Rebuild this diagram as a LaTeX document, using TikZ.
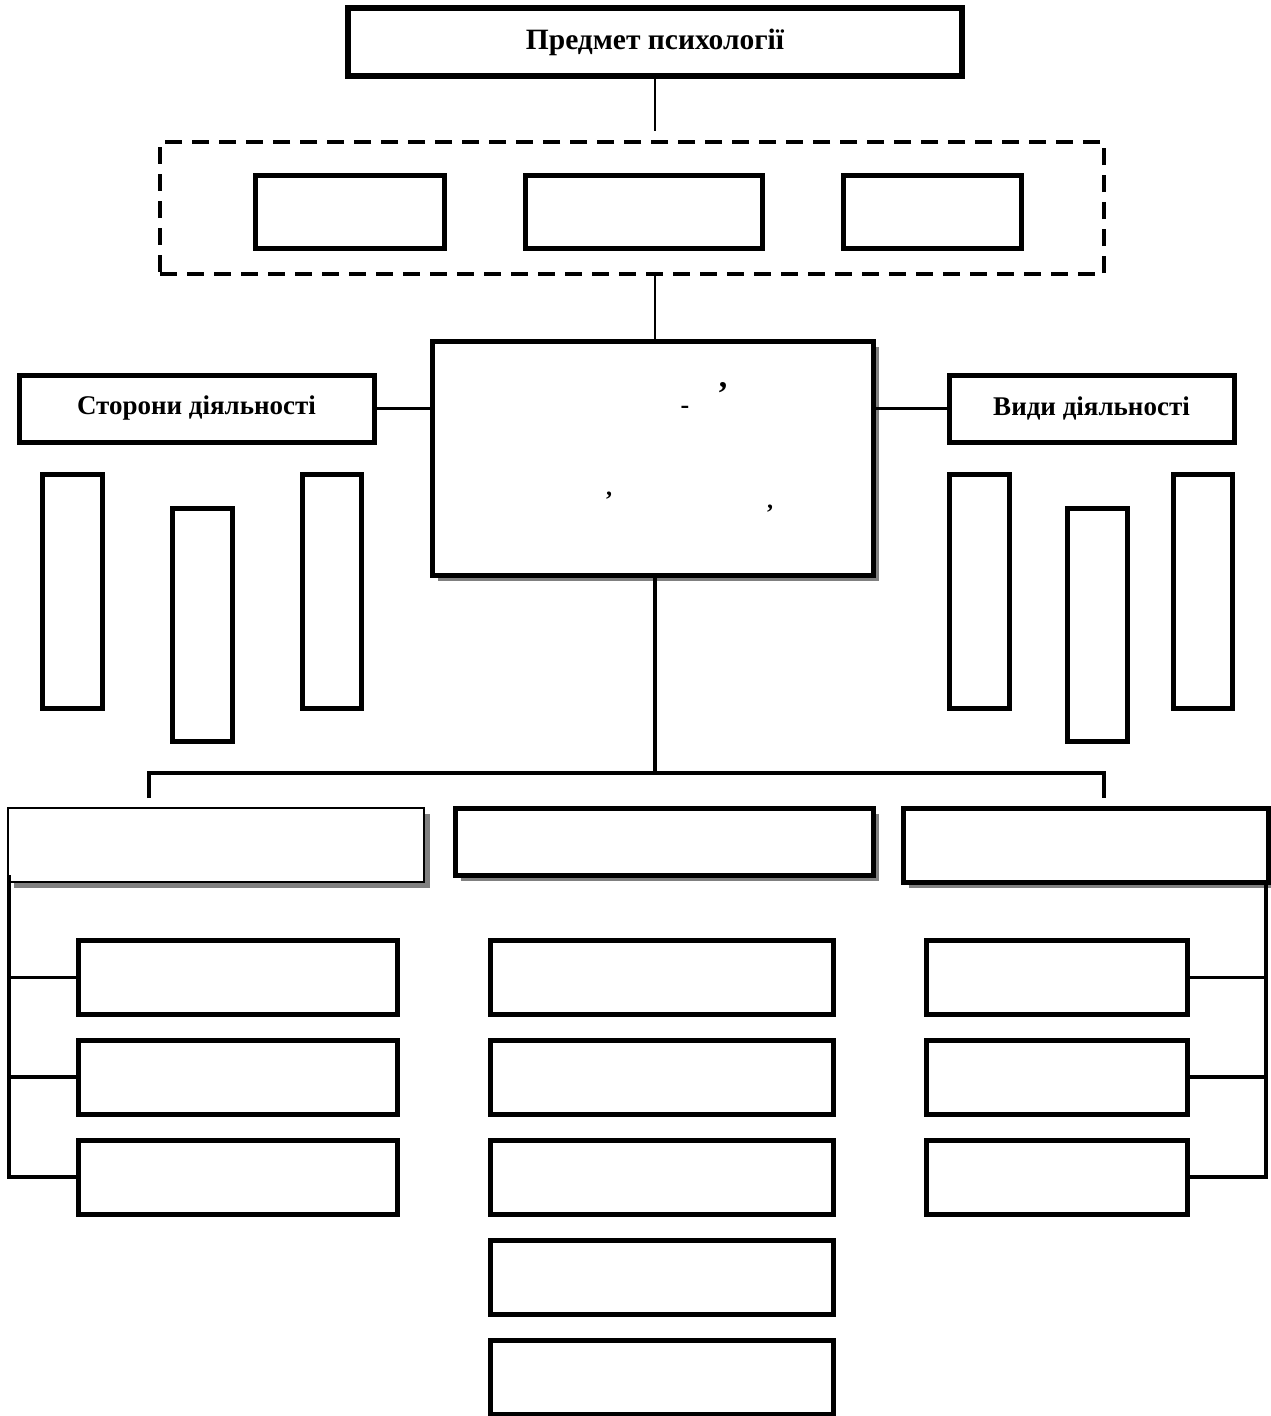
\documentclass[tikz,border=0pt]{standalone}
\usepackage{fontspec}
\setmainfont{Liberation Serif}
\begin{document}
\begin{tikzpicture}[x=1pt,y=-1pt,
  box/.style={draw=black,line width=5pt,fill=white,inner sep=0pt,rectangle},
  thinbox/.style={draw=black,line width=2.5pt,fill=white,inner sep=0pt,rectangle},
  shadowed/.style={preaction={fill=black!50,transform canvas={xshift=6pt,yshift=-6pt}}},
  conn/.style={draw=black,line width=3.5pt},
  lconn/.style={draw=black,line width=2pt},
  lbl/.style={font=\bfseries\fontsize{27}{30}\selectfont},
  punct/.style={font=\bfseries\fontsize{34}{36}\selectfont,inner sep=0pt}
]
\useasboundingbox (0,0) rectangle (1271,1416);
\fill[white] (0,0) rectangle (1271,1416);

% top
\node[box,line width=6pt,minimum width=614pt,minimum height=68pt,font=\bfseries\fontsize{29.5}{32}\selectfont] (top) at (655,42) {Предмет психології};
\node[draw=black,line width=4pt,dash pattern=on 17pt off 10pt,inner sep=0pt,minimum width=944pt,minimum height=132pt] (dash) at (632,208) {};
\node[box,minimum width=189pt,minimum height=73pt] (i1) at (349.5,211.5) {};
\node[box,minimum width=237pt,minimum height=73pt] (i2) at (643.5,211.5) {};
\node[box,minimum width=178pt,minimum height=73pt] (i3) at (932,211.5) {};
\draw[lconn] (top.south -| 655,0) -- (655,131);
\draw[lconn,line width=1.5pt] (655,274) -- (655,341);

% central
\node[box,shadowed,minimum width=441pt,minimum height=234pt] (cen) at (652.5,458) {};
\node[punct] (p1) at (723,388) {,};
\node[punct,font=\bfseries\fontsize{26}{28}\selectfont] (p2) at (685,410) {-};
\node[punct,font=\bfseries\fontsize{24}{26}\selectfont] (p3) at (609,496) {,};
\node[punct,font=\bfseries\fontsize{24}{26}\selectfont] (p4) at (770,509) {,};

% sides
\node[box,minimum width=355pt,minimum height=67pt,lbl] (sl) at (196.5,408.5) {Сторони діяльності};
\node[box,minimum width=285pt,minimum height=67pt,lbl] (sr) at (1091.5,408.5) {Види діяльності};
\draw[conn] (sl.east) -- (sl.east -| cen.west);
\draw[conn] (sr.west) -- (sr.west -| cen.east);

\node[box,minimum width=60pt,minimum height=234pt] (v1) at (72,591) {};
\node[box,minimum width=60pt,minimum height=233pt] (v2) at (202,624.5) {};
\node[box,minimum width=59pt,minimum height=234pt] (v3) at (331.5,591) {};
\node[box,minimum width=60pt,minimum height=234pt] (r1) at (979,591) {};
\node[box,minimum width=60pt,minimum height=233pt] (r2) at (1097,624.5) {};
\node[box,minimum width=59pt,minimum height=234pt] (r3) at (1202.5,591) {};

% bus
\coordinate (bus) at (655,773);
\draw[conn] (cen.south -| 655,0) -- (bus);
\draw[conn] (149,798) -- (149,773) -- (1104,773) -- (1104,798);

% heads
\node[thinbox,shadowed,minimum width=416pt,minimum height=74pt] (hL) at (216,845) {};
\node[box,shadowed,minimum width=418pt,minimum height=67pt] (hM) at (664,841.5) {};
\node[box,shadowed,minimum width=365pt,minimum height=74pt] (hR) at (1085.5,845) {};

% columns
\foreach \n/\y in {l1/977.5,l2/1077,l3/1177}
  \node[box,minimum width=319pt,minimum height=74pt] (\n) at (237.5,\y) {};
\foreach \n/\y in {m1b/977.5,m2b/1077,m3b/1177,m4b/1277,m5b/1377}
  \node[box,minimum width=343pt,minimum height=74pt] (\n) at (661.5,\y) {};
\foreach \n/\y in {q1/977.5,q2/1077,q3/1177}
  \node[box,minimum width=261pt,minimum height=74pt] (\n) at (1056.5,\y) {};

\coordinate (lb) at (9,875);
\coordinate (rb) at (1266,882);
\draw[conn] (lb) |- (l3.west);
\draw[conn] (l1.west) -- (l1.west -| lb);
\draw[conn] (l2.west) -- (l2.west -| lb);
\draw[conn] (rb) |- (q3.east);
\draw[conn] (q1.east) -- (q1.east -| rb);
\draw[conn] (q2.east) -- (q2.east -| rb);
\end{tikzpicture}
\end{document}
